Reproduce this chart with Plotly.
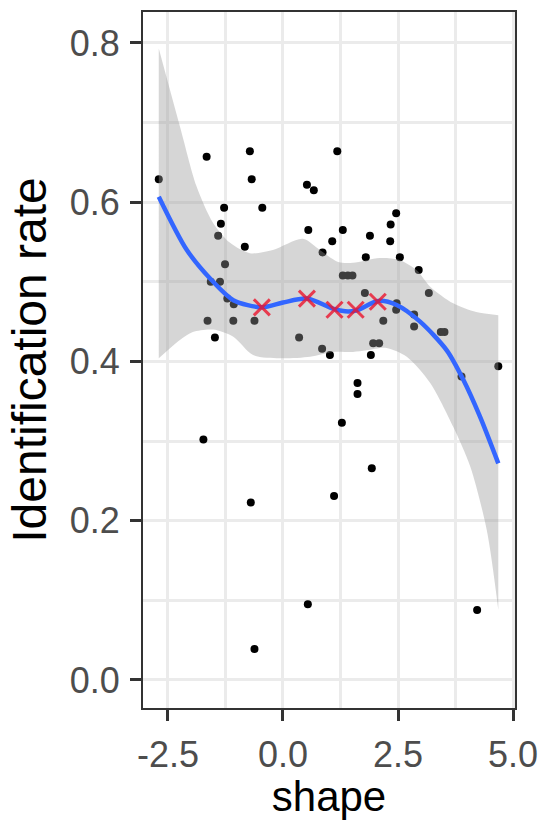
import plotly.graph_objects as go

# ---- data ----
shape_x = [-2.70, -1.66, -0.72, -0.68, -1.28, -0.45, -1.35, -1.41, -0.83, 0.52,
           0.67, 0.55, 1.07, 0.86, 1.18, 2.46, 2.34, 1.30, 1.89, 2.33,
           1.80, 2.54, 2.95, 1.30, 1.41, 1.51, 3.17, 1.78, 2.47, 2.46,
           2.85, 2.85, 2.18, 3.43, 3.51, 1.96, 2.09, 0.85, 1.02, 1.91,
           4.68, 3.88, 1.62, 1.62, 1.28, 1.93, 1.11, 4.22, -0.70, 0.54,
           -0.62, -1.26, -1.57, -1.37, -1.21, -1.07, -1.64, -1.08, -0.62, -1.48,
           0.35, -1.73]
ident_rate = [0.629, 0.657, 0.664, 0.629, 0.593, 0.593, 0.573, 0.558, 0.544, 0.622,
              0.615, 0.565, 0.551, 0.537, 0.664, 0.586, 0.572, 0.565, 0.558, 0.551,
              0.531, 0.531, 0.515, 0.508, 0.508, 0.508, 0.486, 0.486, 0.473, 0.465,
              0.459, 0.444, 0.451, 0.437, 0.437, 0.423, 0.423, 0.416, 0.408, 0.408,
              0.394, 0.381, 0.373, 0.359, 0.323, 0.266, 0.231, 0.088, 0.223, 0.095,
              0.039, 0.522, 0.500, 0.500, 0.479, 0.472, 0.451, 0.451, 0.451, 0.430,
              0.430, 0.302]

fit_x = [-2.70, -2.09, -1.55, -1.08, -0.45, 0.00, 0.52, 1.10, 1.35, 1.59, 2.07, 2.47,
         2.98, 3.56, 3.92, 4.28, 4.68]
fit_y = [0.607, 0.540, 0.502, 0.477, 0.468, 0.474, 0.479, 0.466, 0.463, 0.464, 0.476, 0.471,
         0.450, 0.414, 0.377, 0.331, 0.272]

upper_x = [-2.70, -2.24, -1.88, -1.52, -1.15, -0.72, -0.22, 0.43, 0.80, 1.20, 1.52,
           2.10, 2.50, 2.90, 3.20, 3.70, 4.20, 4.68]
upper_y = [0.793, 0.695, 0.620, 0.574, 0.549, 0.536, 0.540, 0.554, 0.540, 0.525, 0.524,
           0.530, 0.528, 0.515, 0.494, 0.473, 0.462, 0.458]

lower_x = [-2.70, -2.24, -1.96, -1.52, -1.08, -0.65, -0.07, 0.59, 1.09, 1.52, 1.82,
           2.25, 2.69, 3.20, 3.70, 4.07, 4.43, 4.68]
lower_y = [0.404, 0.427, 0.437, 0.440, 0.431, 0.408, 0.404, 0.406, 0.412, 0.412, 0.414,
           0.417, 0.406, 0.373, 0.318, 0.268, 0.188, 0.088]

mark_x = [-0.46, 0.52, 1.12, 1.58, 2.06]
mark_y = [0.468, 0.479, 0.465, 0.465, 0.475]

x_ticks = [-2.5, 0.0, 2.5, 5.0]
x_tick_labels = ["-2.5", "0.0", "2.5", "5.0"]
y_ticks = [0.0, 0.2, 0.4, 0.6, 0.8]
y_tick_labels = ["0.0", "0.2", "0.4", "0.6", "0.8"]

fig = go.Figure()

fig.add_trace(go.Scatter(x=shape_x, y=ident_rate, mode="markers",
                         marker=dict(color="black", size=8, line=dict(width=0)),
                         showlegend=False, hoverinfo="skip"))

fig.add_trace(go.Scatter(x=lower_x, y=lower_y, mode="lines",
                         line=dict(width=0, shape="spline", smoothing=0.8),
                         showlegend=False, hoverinfo="skip"))
fig.add_trace(go.Scatter(x=upper_x, y=upper_y, mode="lines", fill="tonexty",
                         fillcolor="rgba(153,153,153,0.4)",
                         line=dict(width=0, shape="spline", smoothing=0.8),
                         showlegend=False, hoverinfo="skip"))

fig.add_trace(go.Scatter(x=fit_x, y=fit_y, mode="lines",
                         line=dict(color="#3366FF", width=4.5, shape="spline", smoothing=0.8),
                         showlegend=False))

fig.add_trace(go.Scatter(x=mark_x, y=mark_y, mode="markers",
                         marker=dict(symbol="x-thin", size=16,
                                     line=dict(color="rgba(235,20,45,0.8)", width=3)),
                         showlegend=False))

grid = "#EBEBEB"
fig.update_layout(
    width=539, height=820,
    margin=dict(l=143, r=24, t=12, b=112),
    paper_bgcolor="white", plot_bgcolor="white",
    font=dict(family="Liberation Sans, Arial, sans-serif", color="#4D4D4D"),
    xaxis=dict(range=[-3.043, 5.043], tickvals=x_ticks, ticktext=x_tick_labels,
               automargin=False,
               showgrid=True, gridcolor=grid, gridwidth=2.5,
               minor=dict(dtick=1.25, tick0=0, showgrid=True, gridcolor=grid, gridwidth=2.5),
               zeroline=False, showline=True, mirror=True, linecolor="#333333", linewidth=2,
               ticks="outside", ticklen=11, tickwidth=2.5, tickcolor="#333333",
               tickfont=dict(size=36, color="#4D4D4D"), ticklabelstandoff=3,
               title=dict(text="shape", font=dict(size=42, color="black"), standoff=4)),
    yaxis=dict(range=[-0.0352, 0.8389], tickvals=y_ticks, ticktext=y_tick_labels,
               automargin=False,
               showgrid=True, gridcolor=grid, gridwidth=2.5,
               minor=dict(dtick=0.1, tick0=0, showgrid=True, gridcolor=grid, gridwidth=2.5),
               zeroline=False, showline=True, mirror=True, linecolor="#333333", linewidth=2,
               ticks="outside", ticklen=11, tickwidth=2.5, tickcolor="#333333",
               tickfont=dict(size=36, color="#4D4D4D"), ticklabelstandoff=3,
               title=dict(text="Identification rate", font=dict(size=48, color="black"),
                          standoff=8)),
)

fig.write_html("out.html")
